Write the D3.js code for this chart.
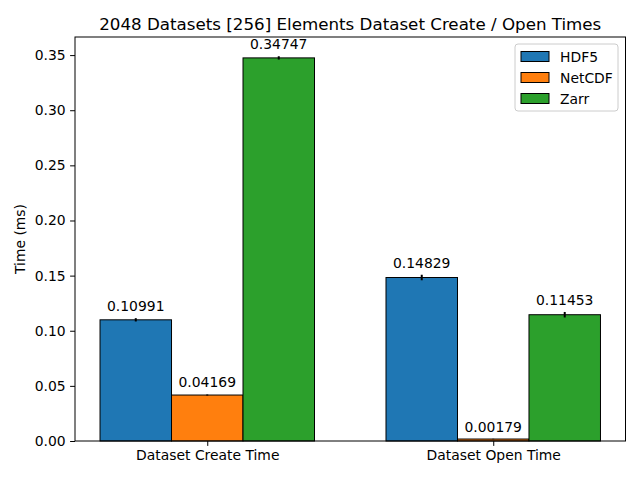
<!DOCTYPE html>
<html>
<head>
<meta charset="utf-8">
<script src="https://cdn.jsdelivr.net/npm/d3@7"></script>
<style>
  body { margin: 0; background: #fff; }
  svg { font-family: "DejaVu Sans", sans-serif; }
</style>
</head>
<body>
<div id="chart"></div>
<script>
// chart data
const categories = ['Dataset Create Time', 'Dataset Open Time'];
const seriesNames = ['HDF5', 'NetCDF', 'Zarr'];
const seriesColors = ['#1f77b4', '#ff7f0e', '#2ca02c'];
const hdf5Values = [0.10991, 0.14829];
const netcdfValues = [0.04169, 0.00179];
const zarrValues = [0.34747, 0.11453];
const hdf5Errors = [0.0015, 0.0025];
const netcdfErrors = [0.0005, 0.0002];
const zarrErrors = [0.0015, 0.0025];
const yTicks = [0, 0.05, 0.10, 0.15, 0.20, 0.25, 0.30, 0.35];

const W = 640, H = 480;
const margin = {top: 37, right: 14.5, bottom: 39, left: 75};
const width = W - margin.left - margin.right,
  height = H - margin.top - margin.bottom;
const fontSize = '13.9px';

const series = [hdf5Values, netcdfValues, zarrValues];
const errors = [hdf5Errors, netcdfErrors, zarrErrors];
const barW = 0.25;

// x is numeric like matplotlib: groups at 0,1 with 5% margin
const xScale = d3.scaleLinear()
  .domain([-0.375 - 0.0875, 1.375 + 0.0875])
  .range([0, width]);

const yMax = d3.max(series.flatMap((s, i) => s.map((v, j) => v + errors[i][j])));
const yScale = d3.scaleLinear()
  .domain([0, yMax * 1.05])
  .range([height, 0]);

const svg = d3.select('#chart').append('svg')
  .attr('width', W).attr('height', H);

const g = svg.append('g')
  .attr('transform', 'translate(' + margin.left + ',' + margin.top + ')');

// bars
const bars = [];
series.forEach((s, i) => {
  s.forEach((v, j) => {
    bars.push({series: i, cat: j, value: v, err: errors[i][j], x: j + (i - 1) * barW});
  });
});

g.selectAll('rect.bar')
  .data(bars)
  .enter()
  .append('rect')
  .attr('class', 'bar')
  .attr('x', d => xScale(d.x - barW / 2))
  .attr('width', d => xScale(d.x + barW / 2) - xScale(d.x - barW / 2))
  .attr('y', d => yScale(d.value))
  .attr('height', d => yScale(0) - yScale(d.value))
  .attr('fill', d => seriesColors[d.series])
  .attr('stroke', 'black')
  .attr('stroke-width', 1);

// error bars
g.selectAll('line.err')
  .data(bars)
  .enter()
  .append('line')
  .attr('class', 'err')
  .attr('x1', d => xScale(d.x)).attr('x2', d => xScale(d.x))
  .attr('y1', d => yScale(d.value - d.err))
  .attr('y2', d => yScale(d.value + d.err))
  .attr('stroke', 'black')
  .attr('stroke-width', 2);

// value labels
g.selectAll('text.val')
  .data(bars)
  .enter()
  .append('text')
  .attr('class', 'val')
  .attr('x', d => xScale(d.x))
  .attr('y', d => yScale(d.value + d.err) - 7)
  .attr('text-anchor', 'middle')
  .attr('font-size', fontSize)
  .text(d => d.value.toFixed(5));

// axes
const yAxis = g.append('g')
  .call(d3.axisLeft(yScale).tickValues(yTicks).tickFormat(d3.format('.2f')).tickSizeOuter(0).tickSize(4.9).tickPadding(4.5));
yAxis.selectAll('text').attr('font-size', fontSize).attr('fill', 'black').attr('font-family', 'DejaVu Sans');

const xAxis = g.append('g')
  .attr('transform', 'translate(0,' + height + ')')
  .call(d3.axisBottom(xScale).tickValues([0, 1]).tickFormat(d => categories[d]).tickSizeOuter(0).tickSize(4.9).tickPadding(4.5));
xAxis.selectAll('text').attr('font-size', fontSize).attr('fill', 'black').attr('font-family', 'DejaVu Sans');
xAxis.select('.domain').remove();
yAxis.select('.domain').remove();

// frame
g.append('rect')
  .attr('width', width).attr('height', height)
  .attr('fill', 'none').attr('stroke', 'black').attr('stroke-width', 1);

// title
svg.append('text')
  .attr('x', margin.left + width / 2)
  .attr('y', 30)
  .attr('text-anchor', 'middle')
  .attr('font-size', '16.7px')
  .text('2048 Datasets [256] Elements Dataset Create / Open Times');

// y label
svg.append('text')
  .attr('transform', 'translate(25,' + (margin.top + height / 2) + ') rotate(-90)')
  .attr('text-anchor', 'middle')
  .attr('font-size', fontSize)
  .text('Time (ms)');

// legend
const legend = svg.append('g').attr('transform', 'translate(515,44)');
legend.append('rect')
  .attr('width', 103).attr('height', 67).attr('rx', 3)
  .attr('fill', 'white').attr('fill-opacity', 0.8)
  .attr('stroke', '#cccccc').attr('stroke-width', 1);
seriesNames.forEach((name, i) => {
  const row = legend.append('g').attr('transform', 'translate(0,' + (12.5 + i * 21) + ')');
  row.append('rect')
    .attr('x', 6).attr('y', -5).attr('width', 28).attr('height', 10)
    .attr('fill', seriesColors[i]).attr('stroke', 'black').attr('stroke-width', 1);
  row.append('text')
    .attr('x', 45).attr('y', 5)
    .attr('font-size', fontSize)
    .text(name);
});
</script>
</body>
</html>
